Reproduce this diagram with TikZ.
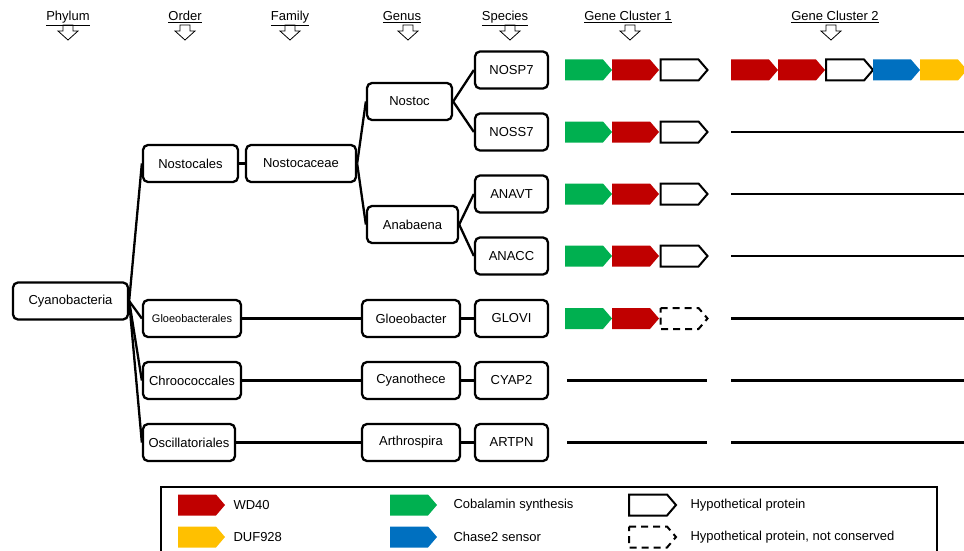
\documentclass[tikz,border=0pt]{standalone}
\usepackage{fontspec}
\setmainfont{Liberation Sans}
\definecolor{wdred}{RGB}{192, 0, 0}
\definecolor{cobgreen}{RGB}{0, 176, 80}
\definecolor{chaseblue}{RGB}{0, 112, 192}
\definecolor{dufyellow}{RGB}{255, 192, 0}
\usetikzlibrary{positioning, calc}
\newcommand{\genebox}[3]{\path[#3] (#1,#2) ++(0,-10.5) -- ++(38,0) -- ++(9,10.5) -- ++(-9,10.5) -- ++(-38,0) -- cycle;}
\newcommand{\hollowdown}[1]{\draw[line width=0.8pt] (#1-5,25) -- (#1+5,25) -- (#1+5,31) -- (#1+10,31) -- (#1,40) -- (#1-10,31) -- (#1-5,31) -- cycle;}
\tikzset{
  taxon/.style={draw, line width=2.3pt, rounded corners=5pt, minimum height=37pt, inner sep=2pt, font=\fontsize{13}{15}\selectfont},
  species/.style={taxon, minimum width=73pt},
  header/.style={anchor=base, font=\fontsize{13}{15}\selectfont},
  branch/.style={line width=2.3pt},
  geneline/.style={line width=2.3pt},
  hypo/.style={draw, line width=2pt, fill=white},
  hyponc/.style={draw, line width=2pt, dash pattern=on 7pt off 5pt},
  legendtext/.style={anchor=west, font=\fontsize{13}{15}\selectfont}
}

\begin{document}
\begin{tikzpicture}[x=1pt, y=-1pt]
  \useasboundingbox (0,0) rectangle (964,551);

  \node[header] (hphylum) at (68,21) {\underline{Phylum}};
  \node[header] (horder) at (185,21) {\underline{Order}};
  \node[header] (hfamily) at (290,21) {\underline{Family}};
  \node[header] (hgenus) at (402,21) {\underline{Genus}};
  \node[header] (hspecies) at (505,21) {\underline{Species}};
  \node[header] (hcluster1) at (628,21) {\underline{Gene Cluster 1}};
  \node[header] (hcluster2) at (835,21) {\underline{Gene Cluster 2}};
  \foreach \x in {68,185,290,408,510,630,831} {\hollowdown{\x}}

  \node[taxon, minimum width=115pt] (cyano) at (70.5,301) {Cyanobacteria};
  \node[taxon, minimum width=95pt] (nostocales) at (190.5,163.5) {Nostocales};
  \node[taxon, minimum width=98pt, font=\fontsize{11}{13}\selectfont] (gloeobacterales) at (192,318.5) {Gloeobacterales};
  \node[taxon, minimum width=98pt] (chroococcales) at (192,380.5) {Chroococcales};
  \node[taxon, minimum width=92pt] (oscillatoriales) at (189,442.5) {Oscillatoriales};
  \node[taxon, minimum width=110pt] (nostocaceae) at (301,163.5) {Nostocaceae};
  \node[taxon, minimum width=85pt] (nostoc) at (409.5,101.5) {Nostoc};
  \node[taxon, minimum width=91pt] (anabaena) at (412.5,224.5) {Anabaena};
  \node[taxon, minimum width=98pt] (gloeobacter) at (411,318.5) {Gloeobacter};
  \node[taxon, minimum width=98pt] (cyanothece) at (411,380.5) {Cyanothece};
  \node[taxon, minimum width=98pt] (arthrospira) at (411,442.5) {Arthrospira};
  \node[species] (nosp7) at (511.5,70) {NOSP7};
  \node[species] (noss7) at (511.5,132) {NOSS7};
  \node[species] (anavt) at (511.5,194) {ANAVT};
  \node[species] (anacc) at (511.5,256) {ANACC};
  \node[species] (glovi) at (511.5,318.5) {GLOVI};
  \node[species] (cyap2) at (511.5,380.5) {CYAP2};
  \node[species] (artpn) at (511.5,442.5) {ARTPN};

  \foreach \child in {nostocales,gloeobacterales,chroococcales,oscillatoriales}
    \draw[branch] (cyano.east) -- (\child.west);
  \draw[branch] (nostocales.east) -- (nostocaceae.west);
  \draw[branch] (nostocaceae.east) -- (nostoc.west);
  \draw[branch] (nostocaceae.east) -- (anabaena.west);
  \draw[branch] (nostoc.east) -- (nosp7.west);
  \draw[branch] (nostoc.east) -- (noss7.west);
  \draw[branch] (anabaena.east) -- (anavt.west);
  \draw[branch] (anabaena.east) -- (anacc.west);
  \draw[branch] (gloeobacterales.east) -- (gloeobacter.west);
  \draw[branch] (chroococcales.east) -- (cyanothece.west);
  \draw[branch] (oscillatoriales.east) -- (arthrospira.west);
  \draw[branch] (gloeobacter.east) -- (glovi.west);
  \draw[branch] (cyanothece.east) -- (cyap2.west);
  \draw[branch] (arthrospira.east) -- (artpn.west);

  \foreach \y in {70,132,194,256,318.5} {
    \genebox{565}{\y}{fill=cobgreen}
    \genebox{612}{\y}{fill=wdred}
  }
  \foreach \y in {70,132,194,256} {\genebox{660.5}{\y}{hypo}}
  \genebox{660.5}{318.5}{hyponc}
  \foreach \y in {380.5,442.5} {\draw[geneline] (567,\y) -- (707,\y);}
  \genebox{731}{70}{fill=wdred}
  \genebox{778}{70}{fill=wdred}
  \genebox{826}{70}{hypo}
  \genebox{873}{70}{fill=chaseblue}
  \genebox{920}{70}{fill=dufyellow}
  \foreach \y in {132,194,256,318.5,380.5,442.5} {\draw[geneline] (731,\y) -- (964,\y);}

  \draw[line width=2.3pt] (161,487) rectangle (937,575);
  \genebox{178}{505}{fill=wdred}
  \genebox{178}{537}{fill=dufyellow}
  \genebox{390}{505}{fill=cobgreen}
  \genebox{390}{537}{fill=chaseblue}
  \genebox{629}{505}{hypo}
  \genebox{629}{537}{hyponc}
  \node[legendtext] (lwd) at (230,505) {WD40};
  \node[legendtext] (lduf) at (230,537) {DUF928};
  \node[legendtext] (lcob) at (450,505) {Cobalamin synthesis};
  \node[legendtext] (lchase) at (450,537) {Chase2 sensor};
  \node[legendtext] (lhypo) at (687,505) {Hypothetical protein};
  \node[legendtext] (lhyponc) at (687,537) {Hypothetical protein, not conserved};
\end{tikzpicture}
\end{document}
